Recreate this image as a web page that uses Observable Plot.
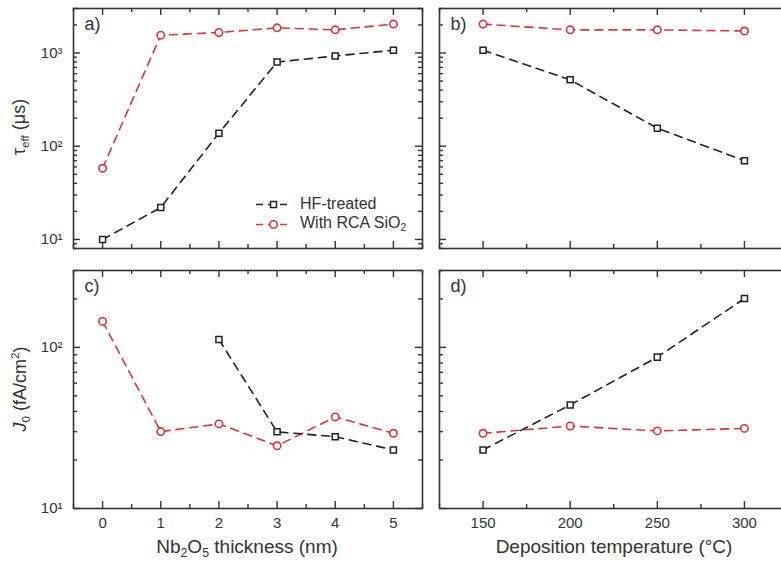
<!DOCTYPE html>
<html><head><meta charset="utf-8">
<script src="https://cdn.jsdelivr.net/npm/d3@7"></script>
<script src="https://cdn.jsdelivr.net/npm/@observablehq/plot@0.6"></script>
<style>
body{margin:0;background:#fff;font-family:"Liberation Sans",Arial,sans-serif;color:#333;}
#wrap{position:relative;width:781px;height:564px;overflow:hidden;background:#fff;}
.ylab{position:absolute;white-space:nowrap;transform:translate(-50%,-50%) rotate(-90deg);font-size:18px;}
.xlab{position:absolute;white-space:nowrap;transform:translateX(-50%);font-size:19px;}
sub{font-size:0.65em;vertical-align:-0.3em;}
sup{font-size:0.65em;vertical-align:0.6em;line-height:0;}
.leg{position:absolute;font-size:16px;display:flex;align-items:center;height:18px;}
</style></head><body><div id="wrap"></div>
<script>
// ---- data ----
const thickness = [0, 1, 2, 3, 4, 5];
const temperature = [150, 200, 250, 300];
const tauHF_thk  = [10, 22, 138, 800, 930, 1070];
const tauRCA_thk = [58, 1550, 1660, 1860, 1770, 2040];
const tauHF_temp  = [1070, 515, 156, 70];
const tauRCA_temp = [2040, 1770, 1770, 1720];
const j0HF_thk  = [null, null, 112, 29.9, 27.9, 23.1];
const j0RCA_thk = [145, 30, 33.5, 24.5, 37, 29.3];
const j0HF_temp  = [23.1, 43.9, 87, 201];
const j0RCA_temp = [29.3, 32.5, 30.3, 31.4];
const seriesNames = ["HF-treated", "With RCA SiO₂"];
const panelTags = ["a)", "b)", "c)", "d)"];
// tick values
const thkMajor = [0, 1, 2, 3, 4, 5];
const thkMinor = [-0.5, 0.5, 1.5, 2.5, 3.5, 4.5, 5.5];
const tempMajor = [150, 200, 250, 300];
const tempMinor = [125, 175, 225, 275, 325];
const tauMajor = [10, 100, 1000];
const tauMinor = [8, 9, 20, 30, 40, 50, 60, 70, 80, 90, 200, 300, 400, 500, 600, 700, 800, 900, 2000, 3000];
const j0Major = [10, 100];
const j0Minor = [20, 30, 40, 50, 60, 70, 80, 90, 200, 300];

const BLACK = "#222", RED = "#e3303a", AX = "#333";
const FONT = '"Liberation Sans", Arial, sans-serif';
const supMap = {1: "¹", 2: "²", 3: "³"};
const fmtLog = d => "10" + supMap[Math.round(Math.log10(d))];
const DASH = "8,6";

const rows = (xs, ys) => xs.map((x, i) => ({x, y: ys[i]})).filter(d => d.y != null);

// inward ticks, drawn with tickX / tickY and insets
function tickMarks(fw, fh, xMajor, xMinor, yMajor, yMinor, rightTicks) {
  const o = {stroke: AX, strokeWidth: 1.4};
  const M = 7, m = 4;
  const t = [
    Plot.tickY(yMajor, {...o, y: d => d, insetRight: fw - M}),
    Plot.tickY(yMinor, {...o, y: d => d, insetRight: fw - m}),
    Plot.tickX(xMajor, {...o, x: d => d, insetTop: fh - M}),
    Plot.tickX(xMinor, {...o, x: d => d, insetTop: fh - m}),
    Plot.tickX(xMajor, {...o, x: d => d, insetBottom: fh - M}),
    Plot.tickX(xMinor, {...o, x: d => d, insetBottom: fh - m})
  ];
  if (rightTicks) t.push(
    Plot.tickY(yMajor, {...o, y: d => d, insetLeft: fw - M}),
    Plot.tickY(yMinor, {...o, y: d => d, insetLeft: fw - m})
  );
  return t;
}

function panel(opt) {
  const {left, top, width, height, margin, xDomain, yDomain, xMajor, xMinor, yMajor, yMinor, hf, rca, tag, showX, showY, rightTicks} = opt;
  const fw = width - margin[0] - margin[1], fh = height - margin[2] - margin[3];
  const marks = [
    ...tickMarks(fw, fh, xMajor, xMinor, yMajor, yMinor, rightTicks),
    Plot.line(rca, {x: "x", y: "y", stroke: RED, strokeWidth: 1.6, strokeDasharray: DASH}),
    Plot.line(hf, {x: "x", y: "y", stroke: BLACK, strokeWidth: 1.6, strokeDasharray: DASH}),
    Plot.dot(hf, {x: "x", y: "y", symbol: "square", r: 3.4, fill: "white", stroke: BLACK, strokeWidth: 1.5}),
    Plot.dot(rca, {x: "x", y: "y", symbol: "circle", r: 3.7, fill: "white", stroke: RED, strokeWidth: 1.6}),
    Plot.text([tag], {frameAnchor: "top-left", dx: 11, dy: 9, textAnchor: "start", lineAnchor: "top", fontSize: 18, fill: AX}),
    Plot.frame({stroke: AX, strokeWidth: 1.6})
  ];
  if (showY) marks.push(Plot.axisY({ticks: yMajor, tickSize: 0, tickPadding: 11, tickFormat: fmtLog, fontSize: 15, label: null, fill: AX}));
  if (showX) marks.push(Plot.axisX({ticks: xMajor, tickSize: 0, tickPadding: 9, tickFormat: d => String(d), fontSize: 15, label: null, fill: AX}));
  const svg = Plot.plot({
    width, height,
    marginLeft: margin[0], marginRight: margin[1], marginTop: margin[2], marginBottom: margin[3],
    style: {fontFamily: FONT, background: "transparent", overflow: "visible"},
    x: {type: "linear", domain: xDomain, ...(showX ? {} : {axis: null})},
    y: {type: "log", domain: yDomain, ...(showY ? {} : {axis: null})},
    marks
  });
  svg.style.position = "absolute";
  svg.style.left = left + "px";
  svg.style.top = top + "px";
  return svg;
}

const wrap = document.getElementById("wrap");
const tauDomain = [8, 3000], j0Domain = [10, 300];
wrap.appendChild(panel({left: 0, top: 0, width: 430, height: 262, margin: [73, 8, 8, 14],
  xDomain: [-0.5, 5.5], yDomain: tauDomain, xMajor: thkMajor, xMinor: thkMinor, yMajor: tauMajor, yMinor: tauMinor,
  hf: rows(thickness, tauHF_thk), rca: rows(thickness, tauRCA_thk), tag: panelTags[0], showX: false, showY: true, rightTicks: true}));
wrap.appendChild(panel({left: 430, top: 0, width: 360, height: 262, margin: [9, 2.5, 8, 14],
  xDomain: [125, 325], yDomain: tauDomain, xMajor: tempMajor, xMinor: tempMinor, yMajor: tauMajor, yMinor: tauMinor,
  hf: rows(temperature, tauHF_temp), rca: rows(temperature, tauRCA_temp), tag: panelTags[1], showX: false, showY: false, rightTicks: false}));
wrap.appendChild(panel({left: 0, top: 262, width: 430, height: 302, margin: [73, 8, 8, 56],
  xDomain: [-0.5, 5.5], yDomain: j0Domain, xMajor: thkMajor, xMinor: thkMinor, yMajor: j0Major, yMinor: j0Minor,
  hf: rows(thickness, j0HF_thk), rca: rows(thickness, j0RCA_thk), tag: panelTags[2], showX: true, showY: true, rightTicks: true}));
wrap.appendChild(panel({left: 430, top: 262, width: 360, height: 302, margin: [9, 2.5, 8, 56],
  xDomain: [125, 325], yDomain: j0Domain, xMajor: tempMajor, xMinor: tempMinor, yMajor: j0Major, yMinor: j0Minor,
  hf: rows(temperature, j0HF_temp), rca: rows(temperature, j0RCA_temp), tag: panelTags[3], showX: true, showY: false, rightTicks: false}));

// axis titles
function addHTML(cls, html, x, y) {
  const d = document.createElement("div");
  d.className = cls; d.innerHTML = html;
  d.style.left = x + "px"; d.style.top = y + "px";
  wrap.appendChild(d);
  return d;
}
addHTML("ylab", "τ<sub>eff</sub> (μs)", 20, 127);
addHTML("ylab", "<i>J</i><sub>0</sub> (fA/cm<sup>2</sup>)", 21, 389);
addHTML("xlab", "Nb<sub>2</sub>O<sub>5</sub> thickness (nm)", 247, 536);
addHTML("xlab", "Deposition temperature (°C)", 614, 536);

// legend
function legendItem(name, y, color, symbol) {
  const d = document.createElement("div");
  d.className = "leg";
  d.style.left = "256px"; d.style.top = (y - 9) + "px";
  const shape = symbol === "square"
    ? `<rect x="14.5" y="4.5" width="6" height="6" fill="white" stroke="${color}" stroke-width="1.5"/>`
    : `<circle cx="17.5" cy="7.5" r="3.7" fill="white" stroke="${color}" stroke-width="1.6"/>`;
  d.innerHTML = `<svg width="36" height="15" style="overflow:visible"><line x1="0" y1="7.5" x2="36" y2="7.5" stroke="${color}" stroke-width="1.6" stroke-dasharray="7,5"/>${shape}</svg>`
    + `<span style="margin-left:8px">${name.replace("₂", "<sub>2</sub>")}</span>`;
  wrap.appendChild(d);
}
legendItem(seriesNames[0], 204, BLACK, "square");
legendItem(seriesNames[1], 224, RED, "circle");
</script></body></html>
